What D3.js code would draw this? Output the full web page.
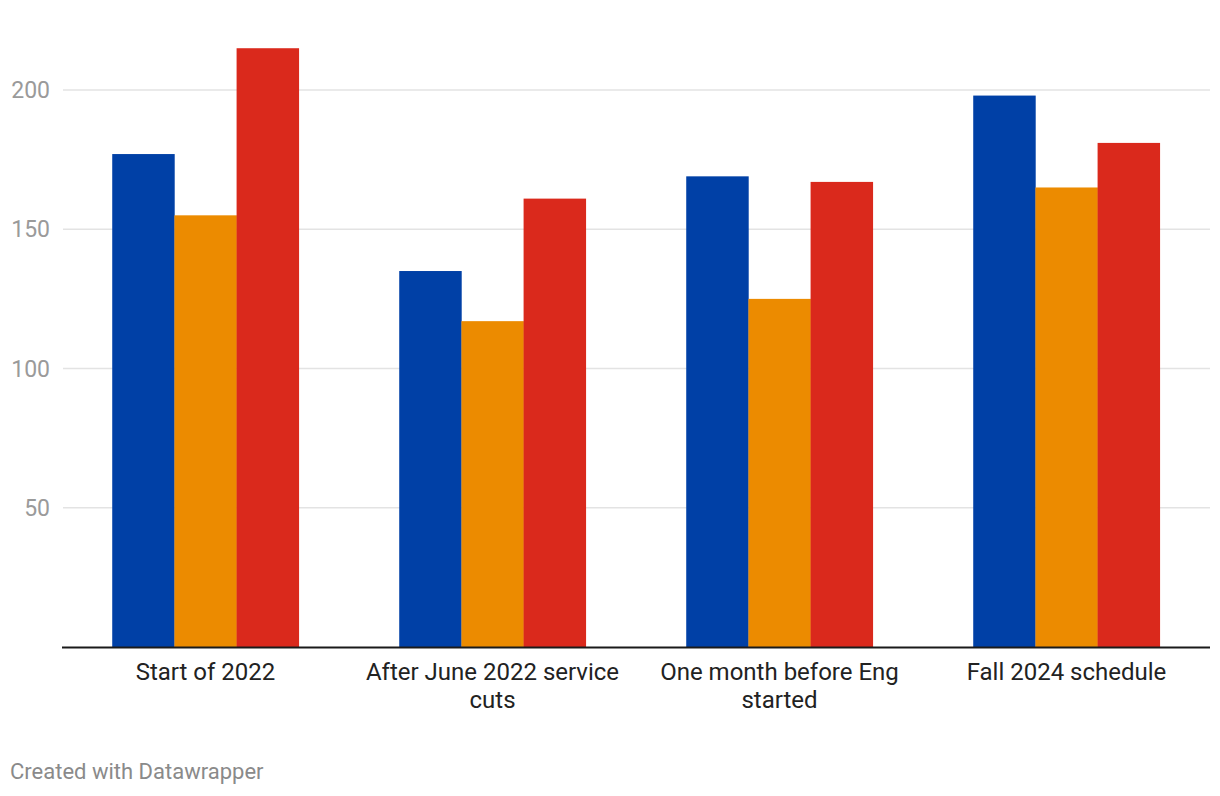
<!DOCTYPE html>
<html>
<head>
<meta charset="utf-8">
<script src="https://cdn.jsdelivr.net/npm/d3@7"></script>
<style>
  body { margin: 0; background: #fff; font-family: Roboto, sans-serif; }
</style>
</head>
<body>
<svg id="chart" width="1220" height="796"></svg>
<script>
// data
var categories = ["Start of 2022", "After June 2022 service cuts", "One month before Eng started", "Fall 2024 schedule"];
var series = ["a", "b", "c"];
var valuesA = [177, 135, 169, 198];
var valuesB = [155, 117, 125, 165];
var valuesC = [215, 161, 167, 181];
var yTicks = [50, 100, 150, 200];
var colors = ["#0040a6", "#ec8b00", "#da291c"];

var svg = d3.select("#chart");
var left = 62, right = 1210, top = 48, bottom = 647;

var x = d3.scaleBand()
  .domain(categories)
  .range([left, right])
  .paddingInner(0.35)
  .paddingOuter(0.175);

var xs = d3.scaleBand()
  .domain(series)
  .range([0, x.bandwidth()]);

var y = d3.scaleLinear()
  .domain([0, 200])
  .range([bottom, 90]);

// gridlines + tick labels
var grid = svg.append("g");
grid.selectAll("line")
  .data(yTicks)
  .enter().append("line")
  .attr("x1", left + 1)
  .attr("x2", right)
  .attr("y1", function(d) { return y(d); })
  .attr("y2", function(d) { return y(d); })
  .attr("stroke", "#e3e3e3")
  .attr("stroke-width", 1.5);

grid.selectAll("text")
  .data(yTicks)
  .enter().append("text")
  .attr("x", 50)
  .attr("y", function(d) { return y(d); })
  .attr("dy", "0.35em")
  .attr("text-anchor", "end")
  .attr("fill", "#9a9a9a")
  .attr("font-size", 23)
  .text(function(d) { return d; });

// bars
var rows = categories.map(function(c, i) {
  return { cat: c, vals: [valuesA[i], valuesB[i], valuesC[i]] };
});

var groups = svg.selectAll("g.grp")
  .data(rows)
  .enter().append("g")
  .attr("class", "grp")
  .attr("transform", function(d) { return "translate(" + x(d.cat) + ",0)"; });

groups.selectAll("rect")
  .data(function(d) { return d.vals.map(function(v, j) { return { key: series[j], v: v, j: j }; }); })
  .enter().append("rect")
  .attr("x", function(d) { return xs(d.key); })
  .attr("width", xs.bandwidth() + 0.3)
  .attr("y", function(d) { return y(d.v); })
  .attr("height", function(d) { return bottom - y(d.v); })
  .attr("fill", function(d) { return colors[d.j]; });

// baseline
svg.append("line")
  .attr("x1", left)
  .attr("x2", right)
  .attr("y1", bottom + 0.5)
  .attr("y2", bottom + 0.5)
  .attr("stroke", "#1a1a1a")
  .attr("stroke-width", 2);

// category labels, wrapped
var wrapW = 275;
categories.forEach(function(c) {
  var cx = x(c) + x.bandwidth() / 2;
  var t = svg.append("text")
    .attr("x", cx)
    .attr("y", 680)
    .attr("text-anchor", "middle")
    .attr("fill", "#222")
    .attr("font-size", 24);
  var words = c.split(" "), line = [];
  var tspan = t.append("tspan").attr("x", cx).attr("dy", 0);
  words.forEach(function(w) {
    line.push(w);
    tspan.text(line.join(" "));
    if (tspan.node().getComputedTextLength() > wrapW && line.length > 1) {
      line.pop();
      tspan.text(line.join(" "));
      line = [w];
      tspan = t.append("tspan").attr("x", cx).attr("dy", 28).text(w);
    }
  });
});

// footer
svg.append("text")
  .attr("x", 10)
  .attr("y", 779)
  .attr("fill", "#8a8a8a")
  .attr("font-size", 22)
  .text("Created with Datawrapper");
</script>
</body>
</html>
